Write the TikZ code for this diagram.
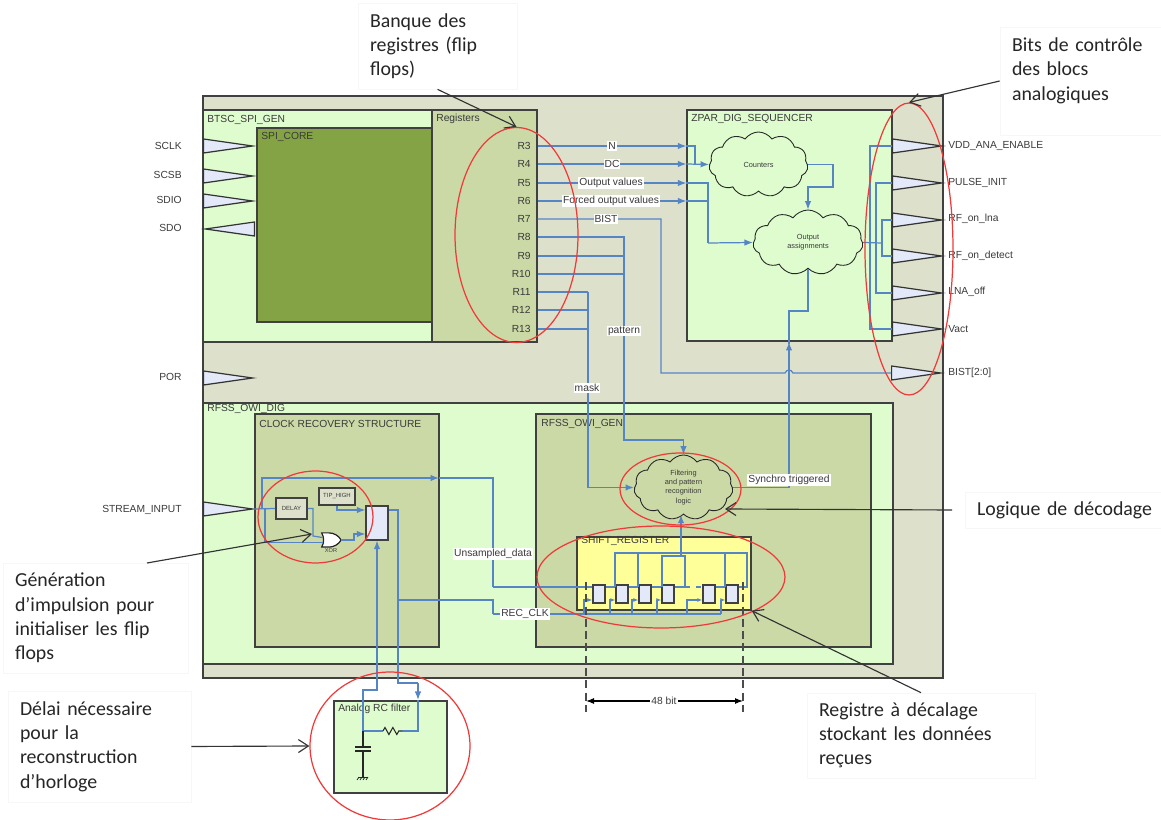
\documentclass[tikz,border=0pt]{standalone}
\usepackage{fontspec}
\setmainfont{Liberation Sans}
\newfontfamily\notefont{Carlito}
\usetikzlibrary{arrows.meta,shapes.geometric,shapes.symbols,shapes.gates.logic.US,decorations.pathmorphing}
\definecolor{topfill}{HTML}{DDE1CB}
\definecolor{greenfill}{HTML}{DFFCCF}
\definecolor{olivefill}{HTML}{CBD9A6}
\definecolor{corefill}{HTML}{84A344}
\definecolor{portfill}{HTML}{E3E9F8}
\definecolor{shiftfill}{HTML}{FFFF99}
\definecolor{wirecol}{HTML}{5585C5}
\definecolor{ringcol}{HTML}{F03A3A}
\definecolor{txtcol}{HTML}{3A3A3A}

\begin{document}
\begin{tikzpicture}[x=0.02cm,y=-0.02cm,>={Latex[length=1.7mm,width=1.3mm]},
block/.style={draw=black!75,line width=0.75pt,inner sep=0pt},
titletxt/.style={anchor=west,inner sep=0pt,text=txtcol,font=\fontsize{5.85}{7}\selectfont},
portleft/.style={anchor=east,inner sep=0pt,text=txtcol,font=\fontsize{5.85}{7}\selectfont},
portright/.style={anchor=west,inner sep=0pt,text=txtcol,font=\fontsize{5.85}{7}\selectfont},
porttri/.style={shape=isosceles triangle,isosceles triangle stretches,draw=black!80,line width=0.7pt,fill=portfill,inner sep=0pt,minimum width=0.28cm,minimum height=0.98cm,anchor=lower side},
wire/.style={draw=wirecol,line width=0.7pt},
fatwire/.style={draw=wirecol,line width=1pt},
wirelbl/.style={fill=white,inner sep=0.6pt,text=txtcol,font=\fontsize{5.85}{7}\selectfont},
logiccloud/.style={shape=cloud,cloud puffs=11,cloud puff arc=110,cloud ignores aspect,draw=black!85,line width=0.5pt,inner sep=0pt,align=center,text=txtcol,font=\fontsize{4.2}{5.2}\selectfont},
ffbox/.style={draw=black!75,line width=0.75pt,fill=portfill,inner sep=0pt,minimum width=0.24cm,minimum height=0.36cm},
smallbox/.style={draw=black!75,line width=0.9pt,fill=topfill,inner sep=0pt,text=txtcol,font=\fontsize{3.4}{4}\selectfont},
ring/.style={shape=ellipse,draw=ringcol,line width=0.7pt,inner sep=0pt},
note/.style={draw=black!3,fill=white,inner sep=0pt,inner xsep=0.24cm,align=left,text=black!85,font=\notefont\fontsize{11.3}{13.8}\selectfont},
notearrow/.style={draw=black!80,line width=0.65pt,-{Straight Barb[length=2mm,width=2.6mm]}},
dimline/.style={draw=black!70,line width=0.8pt,dash pattern=on 4.5pt off 2.5pt}]
\useasboundingbox (0,0) rectangle (1161,820);

\node[block,fill=topfill,minimum width=14.8cm,minimum height=11.64cm] (top) at (573,387) {};
\node[block,fill=greenfill,minimum width=4.58cm,minimum height=4.64cm] (btsc) at (317.5,226) {};
\node[block,fill=corefill,minimum width=3.5cm,minimum height=3.88cm] (core) at (344.5,225) {};
\node[block,fill=olivefill,minimum width=2.1cm,minimum height=4.64cm] (regs) at (484.5,226) {};
\node[block,fill=greenfill,minimum width=4.1cm,minimum height=4.62cm] (zpar) at (789.5,225.5) {};
\node[block,fill=greenfill,minimum width=13.8cm,minimum height=5.22cm] (rfss) at (548,533.5) {};
\node[block,fill=olivefill,minimum width=3.68cm,minimum height=4.66cm] (clockrec) at (347,530.5) {};
\node[block,fill=olivefill,minimum width=6.7cm,minimum height=4.66cm] (owigen) at (703.5,530.5) {};
\node[block,fill=shiftfill,minimum width=3.48cm,minimum height=1.46cm] (shiftreg) at (664,573.5) {};
\node[block,fill=greenfill,minimum width=2.26cm,minimum height=1.84cm] (rcbox) at (390.5,747) {};

\node[titletxt] (t_btsc) at (207,120) {BTSC\_SPI\_GEN};
\node[titletxt] (t_core) at (261,137) {SPI\_CORE};
\node[titletxt] (t_regs) at (436,119) {Registers};
\node[titletxt] (t_zpar) at (691,119) {ZPAR\_DIG\_SEQUENCER};
\node[titletxt] (t_rfss) at (207,409) {RFSS\_OWI\_DIG};
\node[titletxt] (t_clock) at (259,424) {CLOCK RECOVERY STRUCTURE};
\node[titletxt] (t_owi) at (541,424) {RFSS\_OWI\_GEN};
\node[titletxt] (t_shift) at (581,541) {SHIFT\_REGISTER};
\node[titletxt] (t_rc) at (338,709) {Analog RC filter};

\node[porttri] (p_sclk) at (203,146) {};
\node[porttri] (p_scsb) at (203,176) {};
\node[porttri] (p_sdio) at (203,201) {};
\node[porttri,shape border rotate=180] (p_sdo) at (255,229) {};
\node[porttri] (p_por) at (203,378) {};
\node[porttri] (p_stream) at (203,509) {};
\node[portleft] (l_sclk) at (182,146) {SCLK};
\node[portleft] (l_scsb) at (182,175) {SCSB};
\node[portleft] (l_sdio) at (182,200) {SDIO};
\node[portleft] (l_sdo) at (182,228) {SDO};
\node[portleft] (l_por) at (182,377) {POR};
\node[portleft] (l_stream) at (182,510) {STREAM\_INPUT};

\node[porttri] (p_vdd) at (892,146) {};
\node[porttri] (p_pulse) at (892,183) {};
\node[porttri] (p_lna) at (892,220) {};
\node[porttri] (p_det) at (892,256) {};
\node[porttri] (p_off) at (892,293) {};
\node[porttri] (p_vact) at (892,329) {};
\node[porttri] (p_bist) at (891,373) {};
\node[portright] (l_vdd) at (948,146) {VDD\_ANA\_ENABLE};
\node[portright] (l_pulse) at (948,183) {PULSE\_INIT};
\node[portright] (l_lna) at (948,219) {RF\_on\_lna};
\node[portright] (l_det) at (948,256) {RF\_on\_detect};
\node[portright] (l_off) at (948,292) {LNA\_off};
\node[portright] (l_vact) at (948,329) {Vact};
\node[portright] (l_bist) at (948,373) {BIST[2:0]};

\node[portleft] (r3) at (531,146) {R3};
\node[portleft] (r4) at (531,164) {R4};
\node[portleft] (r5) at (531,183) {R5};
\node[portleft] (r6) at (531,201) {R6};
\node[portleft] (r7) at (531,219) {R7};
\node[portleft] (r8) at (531,237) {R8};
\node[portleft] (r9) at (531,256) {R9};
\node[portleft] (r10) at (531,274) {R10};
\node[portleft] (r11) at (531,292) {R11};
\node[portleft] (r12) at (531,310) {R12};
\node[portleft] (r13) at (531,329) {R13};

\node[logiccloud,minimum width=1.98cm,minimum height=1.3cm] (counters) at (758.5,164.5) {Counters};
\node[logiccloud,minimum width=2.2cm,minimum height=1.3cm] (outassign) at (808,242.5) {Output\\assignments};
\node[logiccloud,minimum width=1.98cm,minimum height=1.3cm] (filterlogic) at (683.5,487.5) {Filtering\\and pattern\\recognition\\logic};

\node[smallbox,minimum width=0.62cm,minimum height=0.42cm] (delay) at (291.5,508.5) {DELAY};
\node[smallbox,minimum width=0.72cm,minimum height=0.34cm] (tiphigh) at (337,496.5) {TIP\_HIGH};
\node[or gate US,draw=black!85,fill=white,logic gate inputs=nn,line width=0.7pt,inner sep=0pt,scale=0.5,transform shape] (xorg) at (330,540) {};
\node[inner sep=0pt,text=txtcol,font=\fontsize{3.2}{4}\selectfont] (l_xor) at (331,551) {XOR};
\node[block,fill=portfill,minimum width=0.44cm,minimum height=0.68cm] (ckff) at (377,523) {};

\node[ffbox] (ff1) at (599,594) {};
\node[ffbox] (ff2) at (622,594) {};
\node[ffbox] (ff3) at (645,594) {};
\node[ffbox] (ff4) at (668,594) {};
\node[ffbox] (ff5) at (709,594) {};
\node[ffbox] (ff6) at (732,594) {};

\coordinate (j_stream) at (262,509);
\coordinate (j_xor) at (265,509);
\coordinate (j_unsamp) at (439,478);
\coordinate (j_data) at (493,587);
\coordinate (j_clk) at (493,614);
\coordinate (j_ck) at (398,510);
\coordinate (j_rcin) at (418,700);
\coordinate (j_gnd) at (363,731);
\coordinate (j_bus) at (882,243);

\draw[wire,->] (regs.east |- r3) -- (zpar.west |- r3);
\draw[wire,->] (regs.east |- r4) -- (zpar.west |- r4);
\draw[wire,->] (regs.east |- r5) -- (zpar.west |- r5);
\draw[wire,->] (regs.east |- r6) -- (zpar.west |- r6);
\draw[wire] (zpar.west |- r3) -| (695,165);
\draw[wire,->] (zpar.west |- r4) -- (counters.west);
\draw[wire] (zpar.west |- r5) -| (708,243);
\draw[wire] (zpar.west |- r6) -- (708,201);
\draw[wire,->] (708,243) -- (outassign.west);
\draw[wire,->] (counters.east) -| (833,187) -| (outassign.north);
\draw[wire] (regs.east |- r7) -| (661,373) -- (785,373) .. controls (787,369) and (791,369) .. (793,373) -- (p_bist.lower side);
\draw[wire,->] (regs.east |- r8) -| (624,440) -| (filterlogic.north);
\draw[wire] (regs.east |- r9) -- (624,256);
\draw[wire] (regs.east |- r10) -- (624,274);
\draw[wire] (regs.east |- r11) -- (588,292);
\draw[wire] (regs.east |- r12) -- (588,310);
\draw[wire] (regs.east |- r13) -- (588,329);
\draw[fatwire,->] (588,292) |- (filterlogic.west);
\draw[wire] (outassign.east) -- (j_bus);
\draw[wire] (p_lna.lower side) -| (j_bus) |- (p_det.lower side);
\draw[wire] (p_pulse.lower side) -| (876,293) -- (p_off.lower side);
\draw[wire] (p_vdd.lower side) -| (870,329) -- (p_vact.lower side);
\draw[wire] (outassign.south) |- (789,311) -- (789,344);
\draw[wire,->] (filterlogic.east) -| (789,342);

\draw[wire] (p_stream.apex) -- (delay.west);
\draw[wire,->] (j_stream) |- (j_unsamp);
\draw[wire] (j_xor) |- (xorg.input 2);
\draw[wire] (delay.east) -| (313,536) -- (xorg.input 1);
\draw[wire,->] (xorg.output) -| (354,534) -- (ckff.west |- 0,534);
\draw[wire,->] (tiphigh.south) |- (ckff.west |- 0,510);
\draw[wire] (j_unsamp) -| (j_data);
\draw[wire] (j_data) -- (ff1.west |- j_data);
\draw[wire] (ff1.east |- j_data) -- (ff2.west |- j_data);
\draw[wire] (ff2.east |- j_data) -- (ff3.west |- j_data);
\draw[wire] (ff3.east |- j_data) -- (ff4.west |- j_data);
\draw[wire] (ff4.east |- j_data) -- (685,587);
\draw[wire,dashed] (685,587) -- (ff5.west |- j_data);
\draw[wire] (ff5.east |- j_data) -- (ff6.west |- j_data);
\draw[wire] (ff6.east |- j_data) -- (747,587) -- (747,553) -- (615,553) -- (615,587);
\draw[wire] (638,553) -- (638,587);
\draw[wire] (725,553) -- (725,587);
\draw[wire] (662,587) -- (662,556) -- (685,556) -- (685,587);
\draw[fatwire,->] (681,556) -- (filterlogic.south -| 681,0);

\draw[wire] (ckff.east |- j_ck) -- (j_ck) -- (398,683) -- (418,683);
\draw[wire,->] (418,683) -- (j_rcin);
\draw[wire] (j_rcin) -- (418,731) -- (402,731);
\draw[wire] (398,600) -| (j_clk);
\draw[fatwire] (j_clk) -- (721,614);
\draw[wire,->] (j_gnd) -- (363,690) -- (377,690) -- (ckff.south);
\draw[wire] (j_gnd) -- (383,731);
\draw[black!85,line width=0.6pt,decorate,decoration={zigzag,segment length=4.5pt,amplitude=2pt}] (383,731) -- (402,731);
\draw[black!85,line width=0.6pt] (j_gnd) -- (363,747);
\draw[black!85,line width=0.7pt] (355,747) -- (371,747);
\draw[black!85,line width=0.7pt] (355,751) -- (371,751);
\draw[black!85,line width=0.6pt] (363,751) -- (363,777);
\draw[black!85,line width=0.5pt] (358,777) -- (368,777);
\draw[black!85,line width=0.4pt] (357,780) -- (359,777);
\draw[black!85,line width=0.4pt] (360,780) -- (362,777);
\draw[black!85,line width=0.4pt] (363,780) -- (365,777);
\draw[black!85,line width=0.4pt] (366,780) -- (368,777);

\draw[wire,-{Latex[length=1mm,width=0.8mm]}] (584,614) |- (ff1.west |- 0,600);
\draw[wire,-{Latex[length=1mm,width=0.8mm]}] (610,614) |- (ff2.west |- 0,600);
\draw[wire,-{Latex[length=1mm,width=0.8mm]}] (632,614) |- (ff3.west |- 0,600);
\draw[wire,-{Latex[length=1mm,width=0.8mm]}] (657,614) |- (ff4.west |- 0,600);
\draw[wire,-{Latex[length=1mm,width=0.8mm]}] (687,614) |- (ff5.west |- 0,600);
\draw[wire,-{Latex[length=1mm,width=0.8mm]}] (721,614) |- (ff6.west |- 0,600);

\node[wirelbl] (w_n) at (612,146) {N};
\node[wirelbl] (w_dc) at (612,164) {DC};
\node[wirelbl] (w_out) at (611,183) {Output values};
\node[wirelbl] (w_forced) at (611,201) {Forced output values};
\node[wirelbl] (w_bist) at (606,219) {BIST};
\node[wirelbl] (w_pattern) at (624,331) {pattern};
\node[wirelbl] (w_mask) at (587,388) {mask};
\node[wirelbl] (w_synchro) at (789,480) {Synchro triggered};
\node[wirelbl] (w_unsamp) at (493,554) {Unsampled\_data};
\node[wirelbl] (w_rec) at (525,614) {REC\_CLK};

\coordinate (dl_a) at (586,582);
\coordinate (dl_b) at (743,582);
\draw[dimline] (dl_a) -- (586,712);
\draw[dimline] (dl_b) -- (743,712);
\draw[black,line width=0.6pt,{Latex[length=1.6mm,width=1.2mm]}-{Latex[length=1.6mm,width=1.2mm]}] (dl_a |- 0,701) -- (dl_b |- 0,701);
\node[fill=white,inner sep=0.6pt,text=txtcol,font=\fontsize{5.85}{7}\selectfont] (l_48) at (664,701) {48 bit};

\node[ring,minimum width=2.46cm,minimum height=4.3cm] (ring_regs) at (516.5,235) {};
\node[ring,minimum width=1.76cm,minimum height=5.84cm] (ring_out) at (909,249) {};
\node[ring,minimum width=2.42cm,minimum height=1.44cm] (ring_filter) at (680.5,489) {};
\node[ring,minimum width=4.96cm,minimum height=2.04cm] (ring_shift) at (661,577) {};
\node[ring,minimum width=2.3cm,minimum height=1.84cm] (ring_clock) at (315.5,517) {};
\node[ring,minimum width=3.2cm,minimum height=2.96cm] (ring_rc) at (390,746) {};

\node[note,text width=2.7cm,minimum height=1.72cm] (n_bank) at (437.5,46) {Banque des\\registres (flip\\flops)};
\node[note,text width=2.74cm,minimum height=2.16cm] (n_bits) at (1080.5,81) {Bits de contrôle\\des blocs\\analogiques\\\mbox{}};
\node[note,text width=3.6cm,minimum height=0.72cm] (n_dec) at (1067,510) {Logique de décodage};
\node[note,text width=3.22cm,minimum height=2.2cm] (n_gen) at (95.5,618) {Génération\\d’impulsion pour\\initialiser les flip\\flops};
\node[note,text width=3.18cm,minimum height=2.22cm] (n_delai) at (99.5,746.5) {Délai nécessaire\\pour la\\reconstruction\\d’horloge};
\node[note,text width=4.08cm,minimum height=1.7cm] (n_shift) at (921,735.5) {Registre à décalage\\stockant les données\\reçues};

\coordinate (c_dec) at (952,510);
\coordinate (c_decend) at (725,509);
\coordinate (c_gen) at (147,563);
\coordinate (c_genend) at (312,534);
\draw[notearrow] (n_bank.south) -- (ring_regs.north);
\draw[notearrow] (n_bits.west) -- (ring_out.north);
\draw[notearrow] (c_dec) -- (c_decend);
\draw[notearrow] (c_gen) -- (c_genend);
\draw[notearrow] (n_delai.east) -- (ring_rc.west);
\draw[notearrow] (n_shift.north) -- (shiftreg.south east);
\end{tikzpicture}
\end{document}
